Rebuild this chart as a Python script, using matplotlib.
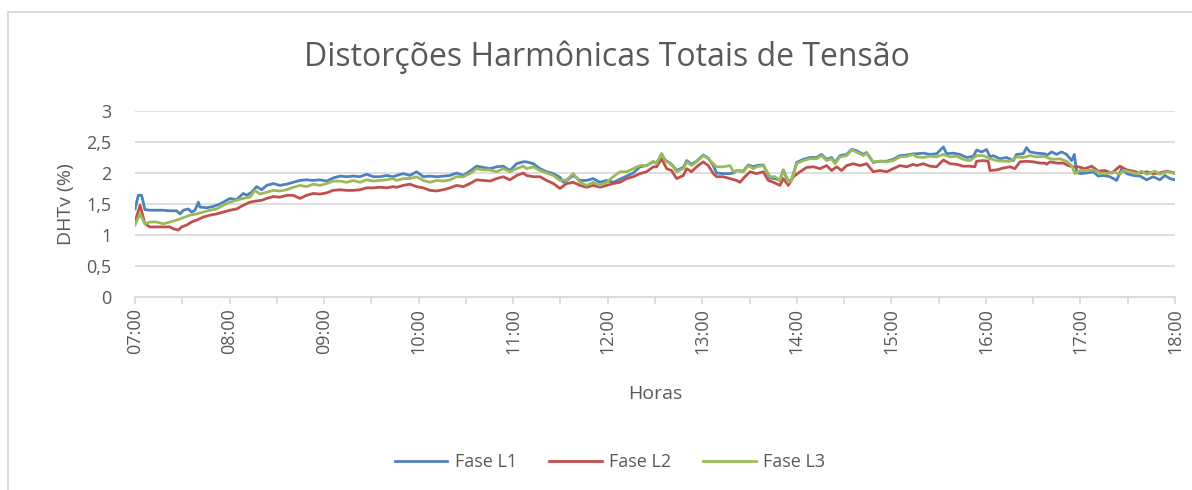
import matplotlib
matplotlib.use("Agg")
import matplotlib.pyplot as plt
from matplotlib.patches import Rectangle

# leituras: minutos desde 07:00 e DHTv (%)
l1_min = [0, 2.1, 4.2, 6.3, 9.5, 13.7, 17.9, 22.2, 26.4, 28.6, 30.7, 33.8, 35.9, 38.1, 40.2, 41.2, 45.5, 49.7, 53.9, 58.2,
          60.3, 64.5, 68.7, 70.9, 74.0, 77.2, 80.4,
          83.6, 87.8, 92.0, 96.2, 100.5, 104.7, 108.9, 113.1, 117.4, 121.6, 125.8, 130.1, 134.3, 138.5, 142.8, 147.0,
          151.2, 155.4, 159.7, 163.9,
          166.0, 170.3, 174.5, 178.7, 183.0, 187.2, 191.4, 195.6, 199.9, 204.1, 208.3, 212.6, 216.8, 221.0, 225.3,
          229.5, 233.7, 237.9, 242.2, 246.4,
          248.5, 252.8, 257.0, 261.2, 265.5, 269.7, 271.8, 273.9, 278.1, 282.4, 286.6, 290.8, 295.1, 299.3, 303.5,
          307.8, 312.0, 316.2, 320.4, 324.7, 328.9,
          331.0, 334.2, 336.3, 339.5, 341.6, 343.7, 348.0, 350.1, 353.2, 356.4, 360.6, 363.8, 367.0, 369.1, 373.3,
          377.6, 379.7, 381.8, 386.0, 389.2, 392.4, 394.5, 398.7, 403.0, 406.1, 409.3,
          411.4, 414.6, 416.7, 419.9, 424.1, 428.3, 432.6, 435.7, 438.9, 442.1, 444.2, 447.4, 451.6, 454.8, 457.9,
          462.2, 464.3, 468.5, 472.8, 477.0, 481.2, 485.4, 489.7, 493.9,
          496.0, 500.3, 504.5, 508.7, 513.0, 515.1, 519.3, 523.5, 527.8, 532.0, 534.1, 537.3, 540.4, 542.6, 544.7,
          548.9, 553.1, 557.4, 559.5, 563.7, 565.8, 567.9, 572.2, 577.5,
          578.5, 581.7, 584.9, 588.0, 591.2, 594.4, 596.1, 597.6, 599.7, 603.9, 608.1, 611.3, 614.5, 618.7, 623.0,
          626.1, 629.3, 633.5, 637.8, 642.0, 646.2, 650.4, 653.6, 656.8, 660.0]
l1_val = [1.42, 1.64, 1.64, 1.41, 1.40, 1.40, 1.40, 1.39, 1.39, 1.34, 1.40, 1.42, 1.37, 1.40, 1.53, 1.45, 1.44, 1.46, 1.50, 1.56,
          1.59, 1.57, 1.67, 1.64, 1.69, 1.78, 1.73,
          1.80, 1.83, 1.80, 1.82, 1.85, 1.88, 1.89, 1.88, 1.89, 1.87, 1.92, 1.95, 1.94, 1.95, 1.94, 1.98,
          1.94, 1.94, 1.96, 1.94,
          1.96, 1.99, 1.96, 2.02, 1.94, 1.95, 1.94, 1.95, 1.96, 2.00, 1.96, 2.03, 2.11, 2.09, 2.07,
          2.10, 2.11, 2.04, 2.15, 2.18,
          2.18, 2.15, 2.07, 2.02, 1.99, 1.93, 1.85, 1.88, 1.96, 1.88, 1.88, 1.91, 1.85, 1.88, 1.85,
          1.90, 1.95, 2.00, 2.10, 2.12, 2.18,
          2.16, 2.31, 2.21, 2.16, 2.11, 2.04, 2.09, 2.20, 2.14, 2.19, 2.29, 2.24, 2.12, 2.00, 1.99,
          1.99, 2.00, 2.04, 2.03, 2.13, 2.10, 2.12, 2.13, 1.92, 1.91, 1.88,
          2.05, 1.86, 1.89, 2.17, 2.22, 2.25, 2.25, 2.30, 2.22, 2.25, 2.17, 2.28, 2.30, 2.38, 2.36,
          2.30, 2.33, 2.17, 2.19, 2.19, 2.22, 2.28, 2.29, 2.31,
          2.31, 2.32, 2.30, 2.31, 2.42, 2.31, 2.32, 2.30, 2.25, 2.27, 2.37, 2.34, 2.38, 2.26, 2.28,
          2.23, 2.25, 2.20, 2.30, 2.31, 2.41, 2.34, 2.32, 2.31,
          2.28, 2.34, 2.30, 2.34, 2.30, 2.20, 2.30, 2.02, 1.99, 2.00, 2.02, 1.95, 1.96, 1.94, 1.88,
          2.07, 1.99, 1.96, 1.95, 1.89, 1.94, 1.89, 1.96, 1.91, 1.89]

l2_min = [0, 3.2, 6.3, 9.5, 13.7, 17.9, 22.2, 24.3, 27.5, 29.6, 32.8, 35.9, 39.1, 43.4, 47.6, 51.8, 56.1, 60.3, 64.5, 68.7,
          73.0, 77.2, 80.4,
          83.6, 87.8, 92.0, 96.2, 100.5, 104.7, 108.9, 113.1, 117.4, 121.6, 125.8, 130.1, 134.3, 138.5, 142.8, 147.0,
          151.2, 155.4, 159.7, 163.9,
          166.0, 170.3, 174.5, 178.7, 183.0, 187.2, 191.4, 195.6, 199.9, 204.1, 208.3, 212.6, 216.8, 221.0, 225.3,
          229.5, 233.7, 237.9, 242.2, 246.4,
          248.5, 252.8, 257.0, 261.2, 265.5, 269.7, 273.9, 278.1, 282.4, 286.6, 290.8, 295.1, 299.3, 303.5, 307.8,
          312.0, 316.2, 320.4, 324.7, 328.9,
          331.0, 334.2, 337.4, 340.5, 343.7, 348.0, 350.1, 353.2, 356.4, 360.6, 363.8, 367.0, 369.1, 373.3, 377.6,
          381.8, 383.9, 387.1, 390.3, 394.5, 398.7, 401.9, 405.1, 409.3,
          411.4, 414.6, 417.8, 422.0, 426.2, 430.5, 434.7, 438.9, 442.1, 445.3, 448.4, 451.6, 455.8, 460.1, 464.3,
          468.5, 472.8, 477.0, 481.2, 485.4, 489.7, 493.9,
          496.0, 500.3, 504.5, 508.7, 513.0, 517.2, 521.4, 525.6, 529.9, 533.0, 534.1, 538.3, 541.5, 542.6, 546.8,
          551.0, 555.3, 558.4, 561.6, 565.8, 570.1, 574.3, 577.5,
          578.5, 580.7, 584.9, 589.1, 592.3, 595.5, 598.6, 602.9, 607.1, 611.3, 615.5, 619.8, 625.1, 629.3, 633.5,
          637.8, 642.0, 646.2, 650.4, 654.7, 660.0]
l2_val = [1.21, 1.48, 1.18, 1.13, 1.13, 1.13, 1.13, 1.10, 1.08, 1.13, 1.16, 1.21, 1.24, 1.29, 1.32, 1.34, 1.37, 1.40, 1.42, 1.48,
          1.53, 1.55, 1.56,
          1.59, 1.62, 1.61, 1.64, 1.64, 1.59, 1.64, 1.67, 1.66, 1.68, 1.72, 1.73, 1.72, 1.72, 1.73, 1.76,
          1.76, 1.77, 1.76, 1.78,
          1.77, 1.80, 1.82, 1.78, 1.76, 1.72, 1.71, 1.73, 1.76, 1.80, 1.78, 1.83, 1.89, 1.88, 1.87,
          1.91, 1.94, 1.89, 1.96, 2.00,
          1.96, 1.94, 1.94, 1.88, 1.83, 1.75, 1.83, 1.85, 1.80, 1.77, 1.80, 1.77, 1.80, 1.83, 1.85,
          1.91, 1.94, 1.99, 2.02, 2.10,
          2.10, 2.23, 2.07, 2.04, 1.91, 1.96, 2.07, 2.02, 2.10, 2.18, 2.12, 1.99, 1.94, 1.94, 1.91,
          1.88, 1.85, 1.94, 2.02, 1.99, 2.02, 1.88, 1.85, 1.80,
          1.91, 1.80, 1.94, 2.02, 2.09, 2.10, 2.07, 2.12, 2.04, 2.10, 2.04, 2.12, 2.15, 2.12, 2.15,
          2.02, 2.04, 2.02, 2.07, 2.12, 2.10, 2.14,
          2.12, 2.15, 2.11, 2.10, 2.21, 2.15, 2.14, 2.11, 2.11, 2.10, 2.19, 2.20, 2.19, 2.04, 2.05,
          2.08, 2.10, 2.07, 2.18, 2.19, 2.18, 2.16, 2.16,
          2.14, 2.18, 2.16, 2.16, 2.12, 2.10, 2.10, 2.07, 2.11, 2.03, 2.04, 2.00, 2.11, 2.05, 2.03,
          2.00, 2.02, 1.99, 2.00, 2.03, 2.00]

l3_min = [0, 3.2, 6.3, 9.5, 13.7, 17.9, 22.2, 26.4, 30.7, 34.9, 39.1, 43.4, 47.6, 51.8, 56.1, 60.3, 64.5, 68.7, 73.0, 76.2,
          79.3,
          83.6, 87.8, 92.0, 96.2, 100.5, 104.7, 108.9, 113.1, 117.4, 121.6, 125.8, 130.1, 134.3, 138.5, 142.8, 147.0,
          151.2, 155.4, 159.7, 163.9,
          166.0, 170.3, 174.5, 178.7, 183.0, 187.2, 191.4, 195.6, 199.9, 204.1, 208.3, 212.6, 216.8, 221.0, 225.3,
          229.5, 233.7, 237.9, 242.2, 246.4,
          248.5, 252.8, 257.0, 261.2, 265.5, 269.7, 273.9, 278.1, 282.4, 286.6, 290.8, 295.1, 299.3, 303.5, 307.8,
          312.0, 316.2, 320.4, 324.7, 328.9,
          331.0, 334.2, 336.3, 339.5, 341.6, 343.7, 348.0, 350.1, 353.2, 356.4, 360.6, 363.8, 367.0, 369.1, 373.3,
          377.6, 379.7, 381.8, 386.0, 389.2, 392.4, 394.5, 398.7, 403.0, 406.1, 409.3,
          411.4, 414.6, 416.7, 419.9, 424.1, 428.3, 432.6, 435.7, 438.9, 442.1, 444.2, 447.4, 451.6, 454.8, 457.9,
          462.2, 464.3, 468.5, 472.8, 477.0, 481.2, 485.4, 489.7, 493.9,
          496.0, 500.3, 504.5, 508.7, 513.0, 517.2, 521.4, 525.6, 529.9, 534.1, 538.3, 542.6, 546.8, 551.0, 555.3,
          559.5, 563.7, 567.9, 572.2, 577.5,
          578.5, 582.8, 587.0, 591.2, 594.4, 596.5, 599.7, 603.9, 608.1, 612.4, 616.6, 620.8, 625.1, 627.2, 631.4,
          635.6, 638.8, 642.0, 647.3, 650.4, 654.7, 660.0]
l3_val = [1.16, 1.34, 1.18, 1.21, 1.21, 1.18, 1.21, 1.24, 1.28, 1.32, 1.34, 1.37, 1.40, 1.42, 1.48, 1.53, 1.56, 1.59, 1.61, 1.72,
          1.66,
          1.69, 1.72, 1.71, 1.73, 1.77, 1.80, 1.78, 1.82, 1.80, 1.83, 1.87, 1.87, 1.85, 1.88, 1.85, 1.89,
          1.87, 1.88, 1.89, 1.91,
          1.88, 1.91, 1.91, 1.94, 1.88, 1.85, 1.88, 1.87, 1.89, 1.94, 1.94, 1.99, 2.07, 2.05, 2.05,
          2.02, 2.07, 2.02, 2.07, 2.11,
          2.07, 2.10, 2.04, 2.00, 1.96, 1.88, 1.89, 1.99, 1.85, 1.80, 1.85, 1.80, 1.85, 1.94, 2.02,
          2.02, 2.07, 2.12, 2.12, 2.19,
          2.15, 2.31, 2.20, 2.15, 2.10, 2.02, 2.07, 2.18, 2.12, 2.18, 2.28, 2.23, 2.15, 2.10, 2.10,
          2.12, 2.02, 2.04, 2.02, 2.12, 2.07, 2.10, 2.12, 1.94, 1.94, 1.88,
          2.04, 1.85, 1.88, 2.15, 2.20, 2.23, 2.23, 2.28, 2.20, 2.23, 2.15, 2.26, 2.28, 2.37, 2.34,
          2.28, 2.32, 2.18, 2.19, 2.18, 2.20, 2.26, 2.27, 2.30,
          2.26, 2.25, 2.27, 2.26, 2.30, 2.26, 2.27, 2.22, 2.20, 2.28, 2.28, 2.23, 2.20, 2.19, 2.19,
          2.26, 2.25, 2.28, 2.26, 2.27,
          2.25, 2.22, 2.23, 2.19, 2.12, 1.99, 2.04, 2.04, 2.05, 2.00, 1.99, 2.02, 1.98, 2.04, 2.02,
          1.99, 2.03, 1.98, 2.03, 1.98, 2.02, 1.99]

series_names = ["Fase L1", "Fase L2", "Fase L3"]
series_colors = ["#4F81BD", "#C0504D", "#9BBB59"]
hour_labels = ["07:00", "08:00", "09:00", "10:00", "11:00", "12:00",
               "13:00", "14:00", "15:00", "16:00", "17:00", "18:00"]
y_ticks = [0, 0.5, 1, 1.5, 2, 2.5, 3]

TXT = "#595959"
GRID = "#D9D9D9"
plt.rcParams['font.family'] = ['Open Sans', 'DejaVu Sans']

W, H = 1192, 490
fig = plt.figure(figsize=(W / 100, H / 100), dpi=100)

# moldura do gráfico (só topo e esquerda aparecem no recorte)
fig.patches.append(Rectangle((8 / W, -0.1), 1.2, (H - 12) / H + 0.1, transform=fig.transFigure,
                             fill=False, edgecolor=GRID, linewidth=1.3))

ax = fig.add_axes([135 / W, 1 - 297 / H, 1040 / W, 186 / H])

for m, v, name, c in zip([l1_min, l2_min, l3_min], [l1_val, l2_val, l3_val], series_names, series_colors):
    ax.plot(m, v, color=c, lw=2.0, label=name, solid_joinstyle='round')

ax.set_xlim(0, 660)
ax.set_ylim(0, 3)
ax.set_yticks(y_ticks)
ax.set_yticklabels([("%g" % t).replace(".", ",") for t in y_ticks])
ax.set_xticks(range(0, 661, 30))
ax.set_xticklabels([hour_labels[i // 2] if i % 2 == 0 else "" for i in range(23)], rotation=90)

ax.grid(axis='y', color=GRID, lw=1.2)
ax.set_axisbelow(True)
for s in ["top", "right", "left"]:
    ax.spines[s].set_visible(False)
ax.spines["bottom"].set_color(GRID)
ax.spines["bottom"].set_linewidth(1.2)
ax.tick_params(axis='y', length=0, pad=17, labelsize=13, labelcolor=TXT)
ax.tick_params(axis='x', length=5, width=1.2, color=GRID, pad=3, labelsize=13, labelcolor=TXT)

ax.set_xlabel("Horas", fontsize=14, color=TXT, labelpad=22)
ax.set_ylabel("DHTv (%)", fontsize=14, color=TXT, labelpad=8)

fig.text(607 / W, 1 - 57 / H, "Distorções Harmônicas Totais de Tensão", fontsize=23, color=TXT,
         ha='center', va='center')

fig.legend(loc='center', bbox_to_anchor=(610 / W, 1 - 462 / H), ncol=3, frameon=False,
           fontsize=13, handlelength=2.9, columnspacing=1.8, handletextpad=0.4, labelcolor=TXT)

fig.savefig("out.png", dpi=100)
